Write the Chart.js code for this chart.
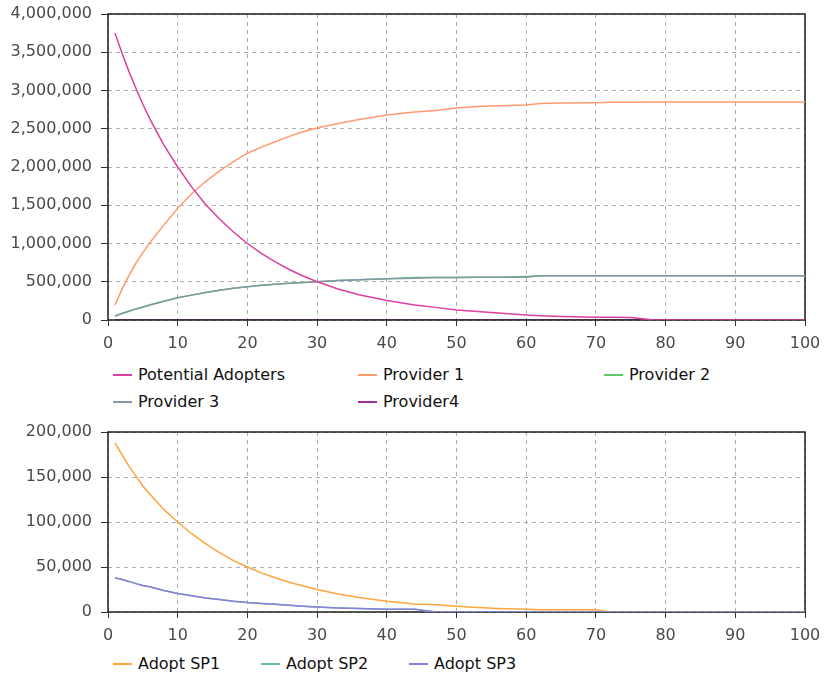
<!DOCTYPE html>
<html>
<head>
<meta charset="utf-8">
<script src="https://cdn.jsdelivr.net/npm/chart.js@4.4.1/dist/chart.umd.min.js"></script>
<style>
    html, body { margin: 0; padding: 0; background: #fff; }
    body { width: 824px; height: 678px; position: relative; overflow: hidden; font-family: "DejaVu Sans", sans-serif; }
    canvas { position: absolute; left: 0; }
    #graficoArriba { top: 0; }
    #graficoAbajo { top: 418px; }
    .leyenda { position: absolute; font-size: 16px; line-height: 20px; color: #111; white-space: nowrap; }
    .leyenda .linea { position: absolute; left: 0; top: 9px; width: 19px; height: 2px; }
    .leyenda .texto { position: absolute; left: 25px; top: 0; }
</style>
</head>
<body>
<canvas id="graficoArriba" width="824" height="355"></canvas>
<canvas id="graficoAbajo" width="824" height="229"></canvas>
<div id="leyendas"></div>

<script>
//////////////////////////////////////////////////////////////////////////////////////
/// DATOS ////////////////////////////////////////////////////////
//////////////////////////////////////////////////////////////////////////////////////
const pasos = [1, 2, 3, 4, 5, 6, 8, 10, 12, 14, 16, 18, 20, 22, 24, 26, 28, 30, 33, 36,
               40, 44, 47, 50, 53, 56, 60, 62, 65, 70, 72, 75, 78, 80, 90, 100];

const potentialAdopters = [3750000, 3490000, 3250000, 3030000, 2820000, 2630000, 2290000, 2000000, 1740000, 1510000,
                           1320000, 1150000, 1000000, 870000, 760000, 660000, 575000, 500000, 405000, 330000,
                           255000, 195000, 165000, 130000, 110000, 90000, 65000, 55000, 45000, 35000,
                           35000, 33000, 3000, 0, 0, 0];

const provider1 = [196000, 400000, 580000, 740000, 880000, 1010000, 1240000, 1460000, 1650000, 1810000,
                   1950000, 2070000, 2180000, 2260000, 2330000, 2400000, 2460000, 2510000, 2570000, 2620000,
                   2680000, 2720000, 2740000, 2770000, 2790000, 2800000, 2810000, 2830000, 2835000, 2840000,
                   2845000, 2845000, 2850000, 2850000, 2850000, 2850000];

const provider2 = [52000, 85000, 115000, 145000, 170000, 195000, 245000, 290000, 325000, 360000,
                   390000, 415000, 435000, 455000, 468000, 480000, 490000, 500000, 515000, 525000,
                   540000, 555000, 555000, 555000, 558000, 560000, 570000, 578000, 580000, 580000,
                   580000, 580000, 580000, 580000, 580000, 580000];

const provider3 = [52000, 85000, 115000, 145000, 170000, 195000, 245000, 290000, 325000, 360000,
                   390000, 415000, 435000, 455000, 468000, 480000, 490000, 500000, 515000, 525000,
                   540000, 545000, 555000, 555000, 558000, 560000, 560000, 578000, 580000, 580000,
                   580000, 580000, 580000, 580000, 580000, 580000];

const provider4 = [0, 0, 0, 0, 0, 0, 0, 0, 0, 0,
                   0, 0, 0, 0, 0, 0, 0, 0, 0, 0,
                   0, 0, 0, 0, 0, 0, 0, 0, 0, 0,
                   0, 0, 0, 0, 0, 0];

const adoptSP1 = [188000, 175000, 162000, 151000, 140000, 131000, 114000, 100000, 87000, 76000,
                  66000, 57000, 50000, 43500, 38000, 33000, 29000, 25000, 20000, 16000,
                  12000, 9000, 8000, 6500, 5000, 4000, 3000, 2500, 2500, 2500,
                  0, 0, 0, 0, 0, 0];

const adoptSP2 = [38000, 36000, 34000, 31500, 29500, 28000, 24000, 20500, 18000, 15500,
                  14000, 12000, 10500, 9500, 8500, 7500, 6500, 5500, 4500, 4000,
                  3000, 3000, 0, 0, 0, 0, 0, 0, 0, 0,
                  0, 0, 0, 0, 0, 0];

const adoptSP3 = [38000, 36000, 34000, 31500, 29500, 28000, 24000, 20500, 18000, 15500,
                  14000, 12000, 10500, 9500, 8500, 7500, 6500, 5500, 4500, 4000,
                  3000, 3000, 0, 0, 0, 0, 0, 0, 0, 0,
                  0, 0, 0, 0, 0, 0];

const ticksX = [0, 10, 20, 30, 40, 50, 60, 70, 80, 90, 100];
const ticksArriba = [0, 500000, 1000000, 1500000, 2000000, 2500000, 3000000, 3500000, 4000000];
const ticksAbajo = [0, 50000, 100000, 150000, 200000];


//////////////////////////////////////////////////////////////////////////////////////
/// FUNCIONES AUXILIARES /////////////////////////////////////////////////////////////
//////////////////////////////////////////////////////////////////////////////////////
const puntos = serie => pasos.map((x, i) => ({ x: x, y: serie[i] }));

function Serie(label, serie, color, orden) {
    return {
        label: label,
        data: puntos(serie),
        borderColor: color,
        backgroundColor: color,
        borderWidth: 1.5,
        pointRadius: 0,
        tension: 0,
        fill: false,
        order: orden
    };
}

// marco negro del area de dibujo (se dibuja bajo las lineas, o despues de una serie dada)
const marcoPlugin = {
    id: "marco",
    dibujar(chart) {
        const { ctx, chartArea: a } = chart;
        ctx.save();
        ctx.strokeStyle = "#1e1e1e";
        ctx.lineWidth = 1.5;
        ctx.setLineDash([]);
        ctx.strokeRect(a.left, a.top, a.right - a.left, a.bottom - a.top);
        ctx.restore();
    },
    beforeDatasetsDraw(chart, args, opts) {
        if (opts.despuesDe === undefined) this.dibujar(chart);
    },
    afterDatasetDraw(chart, args, opts) {
        if (opts.despuesDe === args.index) this.dibujar(chart);
    }
};

function Opciones(ticksY, despuesDe) {
    const fuente = { family: "DejaVu Sans", size: 16 };
    return {
        responsive: false,
        animation: false,
        layout: { padding: { top: 14, right: 19, left: 0, bottom: 0 } },
        plugins: {
            legend: { display: false },
            tooltip: { enabled: false },
            marco: { despuesDe: despuesDe }
        },
        scales: {
            x: {
                type: "linear",
                min: ticksX[0],
                max: ticksX[ticksX.length - 1],
                afterBuildTicks: s => { s.ticks = ticksX.map(v => ({ value: v })); },
                afterFit: s => { s.height = 35; s.paddingLeft = 0; s.paddingRight = 0; },
                ticks: { color: "#4a4a4a", font: fuente, padding: 8, maxRotation: 0, autoSkip: false },
                grid: { color: "#b0b0b0", lineWidth: 1, tickLength: 6, tickColor: "#333", tickWidth: 1, tickBorderDash: [] },
                border: { display: false, dash: [4, 4] }
            },
            y: {
                min: ticksY[0],
                max: ticksY[ticksY.length - 1],
                afterBuildTicks: s => { s.ticks = ticksY.map(v => ({ value: v })); },
                afterFit: s => { s.width = 108; s.paddingTop = 0; s.paddingBottom = 0; },
                ticks: {
                    color: "#4a4a4a", font: fuente, padding: 9,
                    callback: v => v.toLocaleString("en-US")
                },
                grid: { color: "#b0b0b0", lineWidth: 1, tickLength: 7, tickColor: "#333", tickWidth: 1, tickBorderDash: [] },
                border: { display: false, dash: [4, 4] }
            }
        }
    };
}


//////////////////////////////////////////////////////////////////////////////////////
/// GRAFICOS ////////////////////////////////////////////////////////////////////////
//////////////////////////////////////////////////////////////////////////////////////
const seriesArriba = [
    Serie("Potential Adopters", potentialAdopters, "#dc3fa0", 0),
    Serie("Provider 1", provider1, "#ff9a70", 1),
    Serie("Provider 2", provider2, "#62c96a", 3),
    Serie("Provider 3", provider3, "#8596a8", 2),
    Serie("Provider4", provider4, "#9c2fa6", 5)
];

const seriesAbajo = [
    Serie("Adopt SP1", adoptSP1, "#ffa53c", 1),
    Serie("Adopt SP2", adoptSP2, "#6cc39a", 2),
    Serie("Adopt SP3", adoptSP3, "#8a7fe0", 0)
];

new Chart(document.getElementById("graficoArriba"), {
    type: "line",
    data: { datasets: seriesArriba },
    options: Opciones(ticksArriba, 4),
    plugins: [marcoPlugin]
});

new Chart(document.getElementById("graficoAbajo"), {
    type: "line",
    data: { datasets: seriesAbajo },
    options: Opciones(ticksAbajo, undefined),
    plugins: [marcoPlugin]
});


//////////////////////////////////////////////////////////////////////////////////////
/// LEYENDAS ////////////////////////////////////////////////////////////////////////
//////////////////////////////////////////////////////////////////////////////////////
const posicionesArriba = [[113, 365], [358, 365], [604, 365], [113, 392], [358, 392]];
const posicionesAbajo = [[113, 654], [261, 654], [409, 654]];

function MostrarLeyenda(series, posiciones) {
    const contenedor = document.getElementById("leyendas");
    series.forEach((s, i) => {
        const [x, y] = posiciones[i];
        contenedor.insertAdjacentHTML("beforeend", `
            <div class="leyenda" style="left:${x}px; top:${y}px;">
                <span class="linea" style="background:${s.borderColor};"></span>
                <span class="texto">${s.label}</span>
            </div>`);
    });
}

MostrarLeyenda(seriesArriba, posicionesArriba);
MostrarLeyenda(seriesAbajo, posicionesAbajo);
</script>
</body>
</html>
